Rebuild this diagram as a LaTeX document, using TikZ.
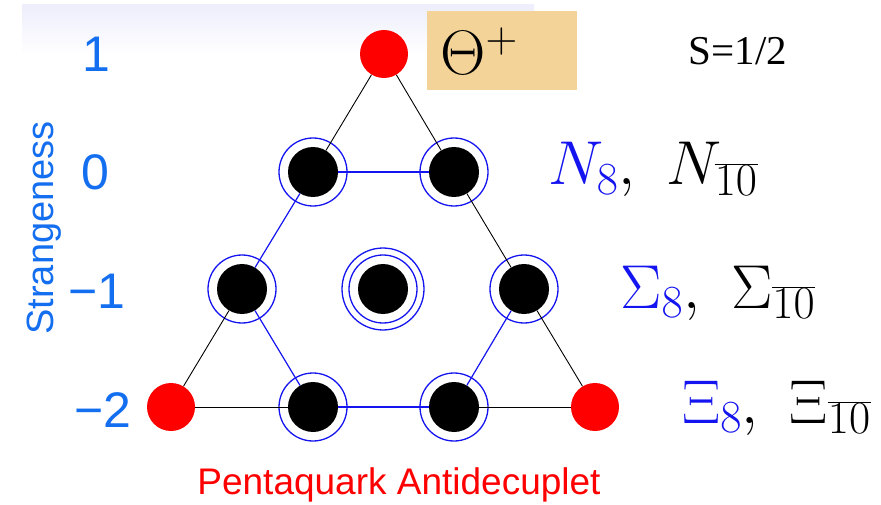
\RequirePackage{fix-cm}
\documentclass[tikz,border=0pt]{standalone}
\usepackage{fontspec}
\newfontfamily\arialf{Liberation Sans}
\newfontfamily\timesf{Liberation Serif}
\DeclareMathSizes{62}{62}{46}{35}
\DeclareMathSizes{63}{63}{44}{35}
\definecolor{axisblue}{RGB}{20,110,240}
\definecolor{boxtan}{RGB}{243,211,152}
\definecolor{lav}{RGB}{238,238,252}
\definecolor{lblue}{RGB}{20,20,240}
\tikzset{
  blk/.style={circle,fill=black,inner sep=0pt,minimum size=50pt},
  rednode/.style={circle,fill=red,inner sep=0pt,minimum size=48pt},
  ring/.style={circle,draw=lblue,line width=1.3pt,inner sep=0pt,minimum size=68pt},
  ringout/.style={circle,draw=lblue,line width=1.3pt,inner sep=0pt,minimum size=82pt},
  bl/.style={draw=black,line width=0.9pt},
  bu/.style={draw=lblue,line width=1.2pt},
  axis/.style={text=axisblue,font=\arialf\fontsize{50}{50}\selectfont,inner sep=0pt},
  lab/.style={anchor=base west,inner sep=0pt,font=\fontsize{62}{62}\selectfont}
}
\begin{document}
\begin{tikzpicture}[x=1pt,y=-1pt]
\useasboundingbox (0,0) rectangle (881,505);
\shade[top color=lav,bottom color=white,draw=none] (22,5) rectangle (534,55);
% theta box
\node[fill=boxtan,minimum width=150pt,minimum height=79pt,inner sep=0pt] (tbox) at (502,51) {};
\node[lab,font=\fontsize{63}{63}\selectfont] (theta) at (440,75) {$\Theta^+$};
\node[anchor=base,inner sep=0pt,font=\timesf\fontsize{41}{41}\selectfont] (spin) at (738,65) {S=1/2};
% nodes
\node[rednode] (top) at (384,54) {};
\node[blk] (n1) at (313,172) {};
\node[blk] (n2) at (454,172) {};
\node[blk] (s1) at (242,289) {};
\node[blk] (s0) at (383,289) {};
\node[blk] (s2) at (524,289) {};
\node[rednode] (x0) at (171,407) {};
\node[blk] (x1) at (313,407) {};
\node[blk] (x2) at (454,407) {};
\node[rednode] (x3) at (595,407) {};
\node[ring] (rn1) at (n1) {};
\node[ring] (rn2) at (n2) {};
\node[ring] (rs1) at (s1) {};
\node[ring] (rs0) at (s0) {};
\node[ringout] (rs0b) at (s0) {};
\node[ring] (rs2) at (s2) {};
\node[ring] (rx1) at (x1) {};
\node[ring] (rx2) at (x2) {};
% connectors
\path[bl] (top) -- (n1);
\path[bl] (top) -- (n2);
\path[bu] (n1) -- (n2);
\path[bu] (n1) -- (s1);
\path[bl] (n2) -- (s2);
\path[bl] (s1) -- (x0);
\path[bu] (s1) -- (x1);
\path[bu] (s2) -- (x2);
\path[bl] (s2) -- (x3);
\path[bl] (x0) -- (x1);
\path[bu] (x1) -- (x2);
\path[bl] (x2) -- (x3);
% axis
\node[axis,anchor=base] (a1) at (96,72) {1};
\node[axis,anchor=base] (a0) at (95,190) {0};
\node[axis,anchor=base] (am1) at (97,308) {−1};
\node[axis,anchor=base] (am2) at (103,427) {−2};
\node[axis,font=\arialf\fontsize{38}{38}\selectfont,rotate=90] (strange) at (44,228) {Strangeness};
% labels
\node[lab] (lN) at (548,185) {$\color{lblue}N_8\color{black},\,\, N_{\overline{10}}$};
\node[lab] (lS) at (620,308) {$\color{lblue}\Sigma_8\color{black},\,\, \Sigma_{\overline{10}}$};
\node[lab] (lX) at (682,423) {$\color{lblue}\Xi_8\color{black},\,\, \Xi_{\overline{10}}$};
\node[anchor=base,inner sep=0pt,text=red,font=\arialf\fontsize{37}{37}\selectfont] (title) at (399,494) {Pentaquark Antidecuplet};
\end{tikzpicture}
\end{document}
